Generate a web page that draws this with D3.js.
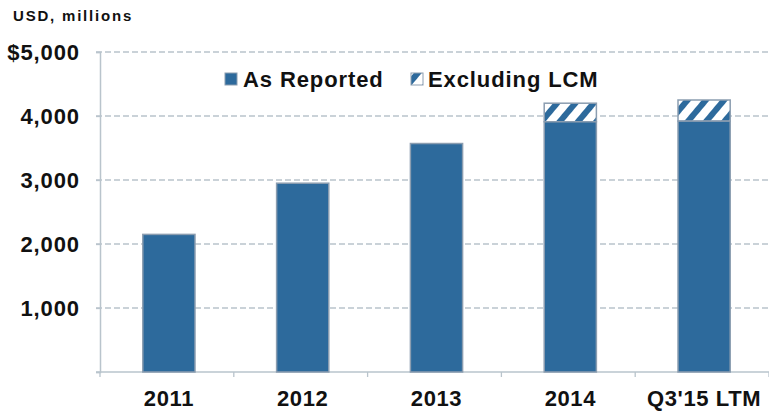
<!DOCTYPE html>
<html>
<head>
<meta charset="utf-8">
<script src="https://cdn.jsdelivr.net/npm/d3@7"></script>
<style>
  html, body { margin: 0; padding: 0; background: #fff; }
  svg { display: block; font-family: "Liberation Sans", Arial, sans-serif; }
</style>
</head>
<body>
<svg id="chart" width="769" height="412"></svg>
<script>
// Annual revenue, USD millions
const categories = ["2011", "2012", "2013", "2014", "Q3'15 LTM"];
const asReported = [2150, 2950, 3570, 3910, 3920];
const excludingLCM = [2150, 2950, 3570, 4200, 4250];
const yTicks = [0, 1000, 2000, 3000, 4000, 5000];
const seriesNames = ["As Reported", "Excluding LCM"];

const W = 769, H = 412;
const margin = { left: 100, right: 0, top: 52, bottom: 40 };
const svg = d3.select("#chart");

const blue = "#2d6a9c";
const border = "#8b9db0";
const gridCol = "#b9c4cc";
const textCol = "#111";
const font = "Liberation Sans, Arial, sans-serif";

// hatch pattern for the LCM adjustment
const defs = svg.append("defs");
const pat = defs.append("pattern")
  .attr("id", "hatch")
  .attr("patternUnits", "userSpaceOnUse")
  .attr("width", 14).attr("height", 14)
  .attr("patternTransform", "rotate(40)");
pat.append("rect").attr("width", 14).attr("height", 14).attr("fill", "#fff");
pat.append("rect").attr("width", 6).attr("height", 14).attr("fill", blue);

const x = d3.scaleBand()
  .domain(categories)
  .range([margin.left + 2, W - margin.right + 2])
  .paddingInner(0.61).paddingOuter(0.305);

const y = d3.scaleLinear()
  .domain([0, 5000])
  .range([372, 52]);

// horizontal gridlines
svg.append("g")
  .selectAll("line")
  .data(yTicks.filter(d => d > 0))
  .join("line")
  .attr("x1", 96).attr("x2", W)
  .attr("y1", d => y(d)).attr("y2", d => y(d))
  .attr("stroke", gridCol)
  .attr("stroke-width", 1.3)
  .attr("stroke-dasharray", "6,3");

// y axis
const yAxis = svg.append("g")
  .attr("transform", `translate(${margin.left},0)`)
  .call(d3.axisLeft(y).tickValues(yTicks).tickSize(4).tickPadding(16)
    .tickFormat(d => d === 0 ? "" : (d === 5000 ? "$" : "") + d3.format(",")(d)));
yAxis.select(".domain").attr("stroke", gridCol).attr("stroke-width", 1.5);
yAxis.selectAll(".tick line").attr("stroke", gridCol).attr("stroke-width", 1.3);
yAxis.selectAll(".tick text")
  .attr("fill", textCol).attr("font-size", 22).attr("font-weight", "bold")
  .attr("letter-spacing", 0.9).attr("font-family", font);

// x axis
const xAxis = svg.append("g")
  .attr("transform", `translate(0,${y(0)})`)
  .call(d3.axisBottom(x).tickSize(0).tickPadding(18));
xAxis.select(".domain").remove();
xAxis.append("line")
  .attr("x1", 96).attr("x2", W)
  .attr("stroke", gridCol).attr("stroke-width", 1.5);
const step = x.step();
xAxis.selectAll(".boundTick")
  .data(d3.range(categories.length + 1))
  .join("line")
  .attr("x1", i => margin.left + i * step).attr("x2", i => margin.left + i * step)
  .attr("y1", 0).attr("y2", 5)
  .attr("stroke", gridCol).attr("stroke-width", 1.3);
xAxis.selectAll(".tick text")
  .attr("fill", textCol).attr("font-size", 22).attr("font-weight", "bold")
  .attr("letter-spacing", 0.6).attr("font-family", font);

// bars: adjustment on top, reported value below
const bars = svg.append("g");
bars.selectAll("rect.lcm")
  .data(categories.map((c, i) => ({ c, lo: asReported[i], hi: excludingLCM[i] })).filter(d => d.hi > d.lo))
  .join("rect")
  .attr("class", "lcm")
  .attr("x", d => x(d.c)).attr("width", x.bandwidth())
  .attr("y", d => y(d.hi)).attr("height", d => y(d.lo) - y(d.hi))
  .attr("fill", "url(#hatch)")
  .attr("stroke", border).attr("stroke-width", 1.5);
bars.selectAll("rect.rep")
  .data(categories.map((c, i) => ({ c, v: asReported[i] })))
  .join("rect")
  .attr("class", "rep")
  .attr("x", d => x(d.c)).attr("width", x.bandwidth())
  .attr("y", d => y(d.v)).attr("height", d => y(0) - y(d.v))
  .attr("fill", blue)
  .attr("stroke", border).attr("stroke-width", 1.5);

// unit label
svg.append("text")
  .attr("x", 13).attr("y", 21)
  .attr("font-size", 15).attr("font-weight", "bold").attr("fill", textCol)
  .attr("letter-spacing", 1.8)
  .text("USD, millions");

// legend
const legend = svg.append("g");
const legendPos = [{ sx: 225, tx: 243 }, { sx: 411, tx: 428 }];
seriesNames.forEach((name, i) => {
  legend.append("rect")
    .attr("x", legendPos[i].sx).attr("y", 73)
    .attr("width", 12).attr("height", 12)
    .attr("fill", i === 0 ? blue : "url(#hatch)")
    .attr("stroke", border).attr("stroke-width", 1);
  legend.append("text")
    .attr("x", legendPos[i].tx).attr("y", 87)
    .attr("font-size", 22).attr("font-weight", "bold").attr("fill", textCol)
    .attr("letter-spacing", 0.9)
    .text(name);
});
</script>
</body>
</html>
